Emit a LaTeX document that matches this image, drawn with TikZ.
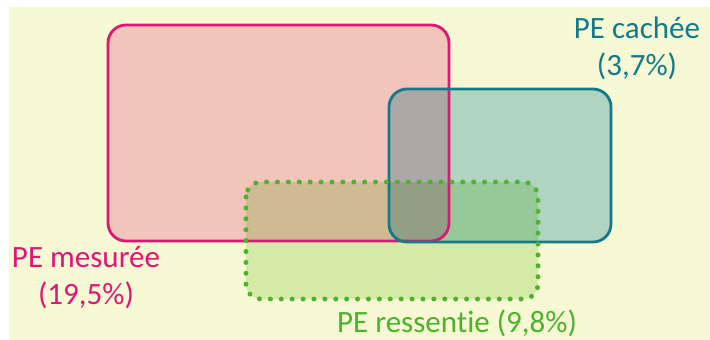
\documentclass[tikz,border=0pt]{standalone}
\usepackage{fontspec}
\setmainfont{Carlito}[Ligatures=NoCommon]
\definecolor{bgyellow}{RGB}{247,248,212}
\definecolor{redfill}{RGB}{249,203,224}
\definecolor{tealfill}{RGB}{181,218,231}
\definecolor{greenfill}{RGB}{220,241,204}
\definecolor{redline}{RGB}{222,22,118}
\definecolor{tealline}{RGB}{18,122,138}
\definecolor{greenline}{RGB}{76,180,40}
\tikzset{
  setbox/.style={rounded corners=18pt},
  lbl/.style={inner sep=0pt, font=\fontsize{31}{37}\selectfont, align=center},
}
\begin{document}
\begin{tikzpicture}[x=1pt,y=-1pt]
\useasboundingbox (0,0) rectangle (710,340);
\begin{scope}[blend group=multiply]
\fill[bgyellow] (9,7) rectangle (710,340);
\fill[redfill, setbox] (108,25) rectangle (449,241);
\fill[tealfill, setbox] (389,89) rectangle (611,242);
\fill[greenfill, rounded corners=15pt] (246,182) rectangle (538,299);
\end{scope}
% outlines
\draw[redline, line width=2.8pt, setbox] (108,25) rectangle (449,241);
\draw[tealline, line width=2.8pt, setbox] (389,89) rectangle (611,242);
\draw[greenline, line width=5pt, line cap=round, dash pattern=on 0pt off 10.9pt, rounded corners=15pt] (246,182) rectangle (538,299);
% labels
\node[lbl, text=redline, anchor=base] (mes) at (86,304) {PE mesurée\\(19,5\%)};
\node[lbl, text=tealline, anchor=base] (cach) at (637,75) {PE cachée\\(3,7\%)};
\node[lbl, text=greenline, anchor=base west] (ress) at (337,332) {PE ressentie (9,8\%)};
\end{tikzpicture}
\end{document}
